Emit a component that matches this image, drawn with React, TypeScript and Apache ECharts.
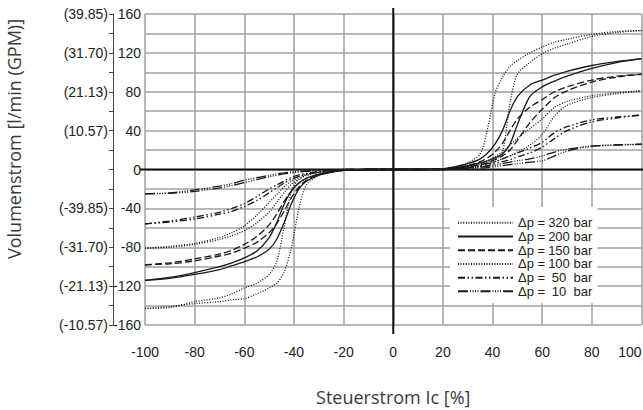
import React, { useEffect, useRef } from 'react';
import * as echarts from 'echarts';

// ---- data ----
const X_NEG = [-100, -90, -80, -70, -65, -60, -55, -50, -47, -44, -41, -38, -35, -30, -25, -20, -10];
const X_POS = [0, 10, 20, 25, 30, 35, 38, 41, 44, 47, 50, 55, 60, 65, 70, 80, 90, 100];

const P320_A_NEG = [-143, -141, -138, -136, -134, -133, -128, -122, -117, -106, -80, -40, -16, -6, -2, -0.5, 0];
const P320_B_NEG = [-143, -142, -136, -132, -128, -122, -117, -108, -95, -60, -22, -10, -6, -3, -1.5, -0.5, 0];
const P320_A_POS = [0, 0, 0.5, 2.5, 7, 16, 42, 78, 95, 106, 112, 120, 126, 131, 134, 139, 142, 143];
const P320_B_POS = [0, 0, 0, 1, 3, 6, 8, 11, 18, 68, 98, 110, 119, 125, 129, 137, 141, 143];

const P200_A_NEG = [-114, -112, -108, -103, -99, -95, -90, -82, -72, -55, -35, -20, -12, -6, -3, -1, 0];
const P200_B_NEG = [-114, -111, -106, -100, -96, -91, -84, -70, -55, -36, -22, -14, -9, -5, -2.5, -1, 0];
const P200_A_POS = [0, 0, 1, 3, 6, 11, 17, 26, 40, 60, 75, 87, 92, 97, 101, 107, 111, 114];
const P200_B_POS = [0, 0, 0.5, 2, 4, 7, 9, 12, 16, 26, 46, 75, 85, 91, 96, 104, 110, 114];

const P150_A_NEG = [-98, -97, -94, -89, -86, -81, -75, -65, -56, -43, -29, -18, -11, -5, -2.5, -1, 0];
const P150_B_NEG = [-98, -96, -92, -87, -83, -77, -69, -57, -46, -33, -22, -14, -9, -5, -2.5, -1, 0];
const P150_A_POS = [0, 0, 0.5, 2, 4, 8, 12, 18, 27, 40, 52, 64, 72, 80, 85, 92, 96, 98];
const P150_B_POS = [0, 0, 0, 1, 3, 5, 7, 10, 14, 20, 30, 48, 62, 74, 81, 90, 95, 98];

const P100_A_NEG = [-81, -80, -77, -72, -68, -63, -55, -44, -34, -24, -15, -10, -6, -3, -1.5, -0.5, 0];
const P100_B_NEG = [-81, -79, -76, -70, -65, -58, -47, -34, -26, -18, -12, -8, -5, -3, -1.5, -0.5, 0];
const P100_A_POS = [0, 0, 0.5, 1.5, 3, 6, 9, 13, 18, 25, 32, 42, 52, 64, 70, 76, 79, 81];
const P100_B_POS = [0, 0, 0, 1, 2, 4, 6, 8, 11, 14, 18, 25, 36, 55, 66, 74, 78, 81];

const P50_A_NEG = [-56, -53, -49, -44, -40, -35, -28, -20, -16, -12, -8, -5.5, -4, -2, -1, -0.5, 0];
const P50_B_NEG = [-56, -54, -51, -46, -43, -38, -32, -24, -19, -14, -10, -7, -5, -2.5, -1, -0.5, 0];
const P50_A_POS = [0, 0, 0.5, 1, 2, 4, 6, 8, 11, 14, 17, 22, 28, 38, 44, 51, 54, 56];
const P50_B_POS = [0, 0, 0, 1, 1.5, 3, 4, 6, 8, 10, 13, 17, 23, 32, 40, 49, 53, 56];

const P10_A_NEG = [-25, -24, -21, -17, -14.5, -11, -8.5, -6, -4.5, -3.5, -2.5, -2, -1.5, -1, -0.5, 0, 0];
const P10_B_NEG = [-25, -24.5, -22.5, -19, -16.5, -13.5, -10.5, -7.5, -6, -4.5, -3.5, -2.5, -2, -1, -0.5, 0, 0];
const P10_A_POS = [0, 0, 0.3, 1, 1.5, 2.5, 3.5, 4.5, 6, 7.5, 9, 11, 14, 18, 21, 24, 25.5, 26];
const P10_B_POS = [0, 0, 0, 0.5, 1, 1.5, 2, 3, 4, 5, 6, 7.5, 9, 14, 19, 24, 25, 26];

const PRESSURES = ['320', '200', '150', '100', '50', '10'];
const CURVES: Record<string, number[][]> = {
  '320': [P320_A_NEG.concat(P320_A_POS), P320_B_NEG.concat(P320_B_POS)],
  '200': [P200_A_NEG.concat(P200_A_POS), P200_B_NEG.concat(P200_B_POS)],
  '150': [P150_A_NEG.concat(P150_A_POS), P150_B_NEG.concat(P150_B_POS)],
  '100': [P100_A_NEG.concat(P100_A_POS), P100_B_NEG.concat(P100_B_POS)],
  '50': [P50_A_NEG.concat(P50_A_POS), P50_B_NEG.concat(P50_B_POS)],
  '10': [P10_A_NEG.concat(P10_A_POS), P10_B_NEG.concat(P10_B_POS)],
};

const X_MIN = -100, X_MAX = 100, X_STEP = 20;
const Y_MIN = -160, Y_MAX = 160, Y_STEP = 20;
const GPM_TICKS = [160, 120, 80, 40, -40, -80, -120, -160];
const GPM_LABELS = ['(39.85)', '(31.70)', '(21.13)', '(10.57)', '(-39.85)', '(-31.70)', '(-21.13)', '(-10.57)'];

const Y_NAME = 'Volumenstrom [l/min (GPM)]';
const X_NAME = 'Steuerstrom Ic [%]';

// ---- styles ----
const INK = '#1a1a1a';
const DASH: Record<string, any> = {
  '320': [1, 1.6],
  '200': 'solid',
  '150': [7, 3],
  '100': [1, 1.6],
  '50': [7, 2.5, 1.5, 2.5, 1.5, 2.5],
  '10': [10, 2, 1, 1.5, 1, 1.5, 1, 1.5, 1, 2],
};
const TICKFONT = "'Liberation Sans', Arial, sans-serif";
const SANS = "'Open Sans', 'Noto Sans', sans-serif";

const seriesName = (p: string) => `Δp = ${p} bar`;

export default function App() {
  const ref = useRef<HTMLDivElement>(null);
  useEffect(() => {
    document.body.style.margin = '0';
    document.body.style.overflow = 'hidden';
    const el = ref.current!;
    const chart = echarts.init(el, null, { renderer: 'svg', width: 643, height: 410 });
    const xs = X_NEG.concat(X_POS);
    const series: any[] = [];
    PRESSURES.forEach((p) => {
      CURVES[p].forEach((ys) => {
        series.push({
          name: seriesName(p),
          type: 'line',
          data: xs.map((x, i) => [x, ys[i]]),
          smooth: 0.3,
          symbol: 'none',
          showSymbol: false,
          lineStyle: { color: INK, width: 1.3, type: DASH[p] },
          itemStyle: { color: INK },
          z: 3,
        });
      });
    });

    const option: any = {
      animation: false,
      grid: { left: 145, right: 1.5, top: 14, bottom: 85, containLabel: false, outerBoundsMode: 'none' },
      xAxis: {
        type: 'value', min: X_MIN, max: X_MAX, interval: X_STEP,
        name: X_NAME, nameLocation: 'middle', nameGap: 63,
        nameTextStyle: { fontSize: 18, fontFamily: SANS, color: '#3a3a3a' },
        axisLine: { show: false }, axisTick: { show: false },
        axisLabel: { margin: 20, fontSize: 14, fontFamily: TICKFONT, color: '#222', alignMaxLabel: 'right' },
        splitLine: { show: true, lineStyle: { color: '#a0a0a0', width: 1.5 } },
      },
      yAxis: [
        {
          type: 'value', min: Y_MIN, max: Y_MAX, interval: Y_STEP,
          axisLine: { show: false }, axisTick: { show: false },
          axisLabel: {
            margin: 4, fontSize: 14, fontFamily: TICKFONT, color: '#222',
            formatter: (v: number) => (v % 40 === 0 ? String(v) : ''),
          },
          splitLine: { show: true, lineStyle: { color: '#a0a0a0', width: 1.5 } },
        },
        {
          type: 'value', min: Y_MIN, max: Y_MAX, interval: Y_STEP, position: 'left', offset: 32,
          axisLine: { show: true, onZero: false, lineStyle: { color: '#444', width: 1 } },
          axisTick: { show: true, length: 4, lineStyle: { color: '#444' } },
          axisLabel: {
            margin: 5, fontSize: 14, fontFamily: TICKFONT, color: '#222',
            formatter: (v: number) => {
              const i = GPM_TICKS.indexOf(v);
              return i >= 0 ? GPM_LABELS[i] : '';
            },
          },
          splitLine: { show: false },
        },
      ],
      legend: {
        data: PRESSURES.map(seriesName),
        orient: 'vertical', left: 450, top: 207,
        backgroundColor: '#fff', padding: [9, 5, 5, 7],
        itemWidth: 55, itemHeight: 10, itemGap: 0, itemTextGap: 5,
        selectedMode: false,
        itemStyle: { color: 'rgba(0,0,0,0)', borderWidth: 0, opacity: 0 },
        formatter: (name: string) => {
          const i = PRESSURES.map(seriesName).indexOf(name);
          return `{a|Δp =}{b|${PRESSURES[i]}}{c| bar}`;
        },
        textStyle: {
          fontSize: 13, fontFamily: TICKFONT, color: '#222', lineHeight: 13.7,
          rich: {
            a: { fontSize: 13, width: 30, lineHeight: 13.7, fontFamily: TICKFONT, color: '#222' },
            b: { fontSize: 13, width: 22, align: 'right', lineHeight: 13.7, fontFamily: TICKFONT, color: '#222' },
            c: { fontSize: 13, lineHeight: 13.7, fontFamily: TICKFONT, color: '#222' },
          },
        },
      },
      series,
    };
    chart.setOption(option);

    const px = (x: number, y: number) => chart.convertToPixel({ xAxisIndex: 0, yAxisIndex: 0 }, [x, y]) as number[];
    const top = px(0, Y_MAX), bot = px(0, Y_MIN), lft = px(X_MIN, 0), rgt = px(X_MAX, 0);
    chart.setOption({
      graphic: [
        { type: 'line', z: 2, shape: { x1: top[0], y1: top[1] - 6, x2: bot[0], y2: bot[1] + 9 }, style: { stroke: '#111', lineWidth: 2 } },
        { type: 'line', z: 2, shape: { x1: lft[0] - 5, y1: lft[1], x2: rgt[0] + 2, y2: rgt[1] }, style: { stroke: '#111', lineWidth: 2 } },
        {
          type: 'text', x: 14, y: 139, rotation: Math.PI / 2,
          style: { text: Y_NAME, textAlign: 'center', textVerticalAlign: 'middle', fontSize: 18, fontFamily: SANS, fill: '#3a3a3a' },
        },
      ],
    });
    return () => chart.dispose();
  }, []);
  return <div ref={ref} style={{ width: 643, height: 410, overflow: 'hidden' }} />;
}
